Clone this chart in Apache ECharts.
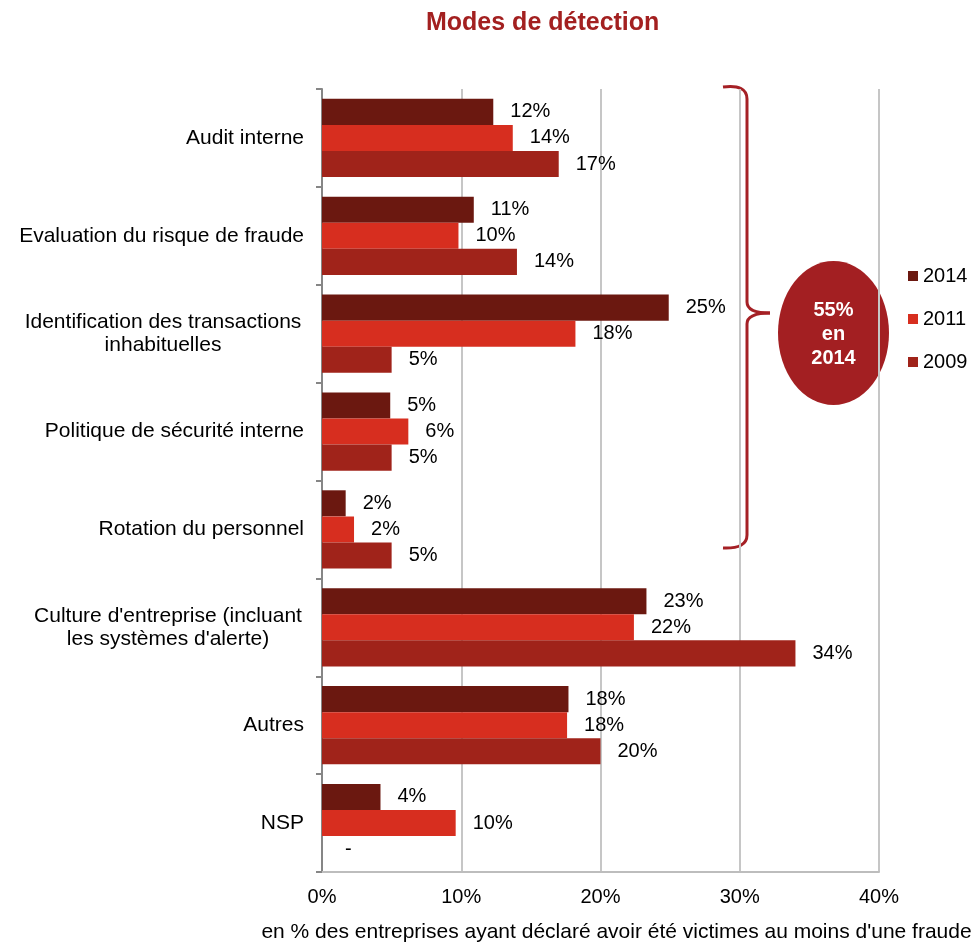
<!DOCTYPE html>
<html>
<head>
<meta charset="utf-8">
<script src="https://cdn.jsdelivr.net/npm/echarts@6/dist/echarts.min.js"></script>
<style>
html,body{margin:0;padding:0;background:#fff;}
#chart{width:980px;height:943px;}
</style>
</head>
<body>
<div id="chart"></div>
<script>
const categories = [
  "Audit interne",
  "Evaluation du risque de fraude",
  "Identification des transactions\ninhabituelles",
  "Politique de sécurité interne",
  "Rotation du personnel",
  "Culture d'entreprise (incluant\nles systèmes d'alerte)",
  "Autres",
  "NSP"
];
const seriesNames = ["2014", "2011", "2009"];
const values2014 = [12.3, 10.9, 24.9, 4.9, 1.7, 23.3, 17.7, 4.2];
const values2011 = [13.7, 9.8, 18.2, 6.2, 2.3, 22.4, 17.6, 9.6];
const values2009 = [17.0, 14.0, 5.0, 5.0, 5.0, 34.0, 20.0, 0];
const xTicks = [0, 10, 20, 30, 40];
const colors = ["#6B1810", "#D72E1F", "#A0231A"];

const FONT = "'Liberation Sans', Arial, sans-serif";
const chart = echarts.init(document.getElementById('chart'));

function labelFmt(p) {
  if (p.value === 0) return '-';
  return Math.round(p.value) + '%';
}

function makeSeries(name, data, color) {
  return {
    name: name,
    type: 'bar',
    data: data.map(v => v === 0 ? { value: v, label: { distance: 23 } } : v),
    barGap: '0%',
    barCategoryGap: '20%',
    itemStyle: { color: color },
    label: {
      show: true,
      position: 'right',
      distance: 17,
      formatter: labelFmt,
      color: '#000',
      fontSize: 20,
      fontFamily: FONT
    }
  };
}

const braceStroke = { stroke: '#A52025', lineWidth: 3, fill: null };
function bz(x1, y1, cx, cy, x2, y2) {
  return { type: 'bezierCurve', shape: { x1: x1, y1: y1, cpx1: cx, cpy1: cy, x2: x2, y2: y2 }, style: braceStroke };
}
function ln(x1, y1, x2, y2) {
  return { type: 'line', shape: { x1: x1, y1: y1, x2: x2, y2: y2 }, style: braceStroke };
}

chart.setOption({
  animation: false,
  backgroundColor: '#fff',
  title: {
    text: 'Modes de détection',
    left: 421,
    top: 6,
    textStyle: { color: '#A32020', fontSize: 25, fontWeight: 'bold', fontFamily: FONT }
  },
  legend: {
    data: seriesNames,
    orient: 'vertical',
    left: 903,
    top: 261,
    itemWidth: 10,
    itemHeight: 10,
    itemGap: 23,
    icon: 'rect',
    textStyle: { color: '#000', fontSize: 20, fontFamily: FONT }
  },
  grid: { left: 322, right: 101, top: 89, bottom: 71, containLabel: false, outerBoundsMode: 'none' },
  xAxis: {
    type: 'value',
    min: xTicks[0],
    max: xTicks[xTicks.length - 1],
    interval: 10,
    axisLine: { show: true, lineStyle: { color: '#BDBDBD', width: 2 } },
    axisTick: { show: false },
    splitLine: { show: true, lineStyle: { color: '#C6C6C6', width: 2 } },
    axisLabel: { formatter: '{value}%', color: '#000', fontSize: 20, fontFamily: FONT, margin: 15 },
    name: "en % des entreprises ayant déclaré avoir été victimes au moins d'une fraude",
    nameLocation: 'middle',
    nameGap: 50,
    nameTextStyle: { color: '#000', fontSize: 21, fontFamily: FONT, padding: [0, 0, 0, 32] }
  },
  yAxis: {
    type: 'category',
    data: categories,
    inverse: true,
    axisLine: { show: true, lineStyle: { color: '#868686', width: 2 } },
    axisTick: { show: true, length: 6, lineStyle: { color: '#868686', width: 2 } },
    axisLabel: {
      color: '#000',
      fontSize: 21,
      fontFamily: FONT,
      margin: 18,
      lineHeight: 23,
      formatter: function (v) {
        if (v.indexOf('\n') >= 0) {
          const w = v.indexOf('Identification') === 0 ? 'a' : 'b';
          return v.split('\n').map(s => '{' + w + '|' + s + '}').join('\n');
        }
        return v;
      },
      rich: {
        a: { width: 282, align: 'center', fontSize: 21, fontFamily: FONT, lineHeight: 23, color: '#000' },
        b: { width: 272, align: 'center', fontSize: 21, fontFamily: FONT, lineHeight: 23, color: '#000' }
      }
    }
  },
  series: [
    makeSeries(seriesNames[0], values2014, colors[0]),
    makeSeries(seriesNames[1], values2011, colors[1]),
    makeSeries(seriesNames[2], values2009, colors[2])
  ],
  graphic: [
    bz(723, 87, 747, 84, 747, 99),
    ln(747, 99, 747, 302),
    bz(747, 302, 747, 313, 770, 313),
    bz(770, 313, 747, 313, 747, 324),
    ln(747, 324, 747, 535),
    bz(747, 535, 747, 549, 723, 548),
    {
      type: 'circle',
      shape: { cx: 0, cy: 0, r: 72 },
      x: 833.5,
      y: 333,
      scaleX: 55.5 / 72,
      style: { fill: '#A31F22' }
    },
    {
      type: 'text',
      x: 833.5,
      y: 334,
      style: {
        text: '55%\nen\n2014',
        fill: '#fff',
        font: "bold 20px 'Liberation Sans', Arial, sans-serif",
        lineHeight: 24,
        align: 'center',
        verticalAlign: 'middle'
      }
    }
  ]
});
</script>
</body>
</html>
